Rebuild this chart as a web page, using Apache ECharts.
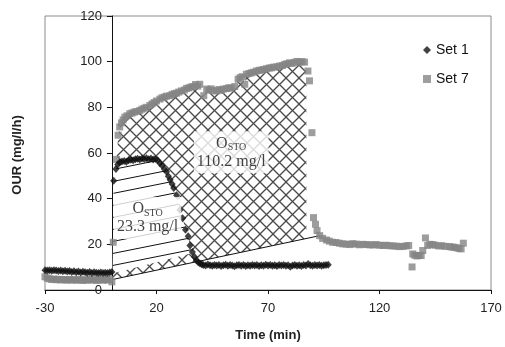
<!DOCTYPE html>
<html><head><meta charset="utf-8">
<script src="https://cdn.jsdelivr.net/npm/echarts@6/dist/echarts.min.js"></script>
<style>html,body{margin:0;padding:0;background:#fff}#c{width:505px;height:347px}</style>
</head><body><div id="c"></div>
<script>
// ---- data ----
const xMin = -30, xMax = 170, xStep = 50;
const yMin = 0, yMax = 120, yStep = 20;
const seriesNames = ['Set 1', 'Set 7'];

const set1 = [
 [-30,8.6],[-29,8.5],[-28,8.7],[-27,8.4],[-26,8.6],[-25,8.5],[-24,8.3],[-23,8.5],[-22,8.2],[-21,8.4],
 [-20,8.1],[-19,8.3],[-18,7.9],[-17,8.2],[-16,7.8],[-15,8.1],[-14,7.7],[-13,8.0],[-12,7.8],[-11,7.6],
 [-10,7.9],[-9,7.5],[-8,7.8],[-7,7.6],[-6,7.4],[-5,7.7],[-4,7.5],[-3,7.6],[-2,7.4],[-1,7.7],[0,7.9],
 [0.8,47.8],[1.8,53.0],[2.6,55.0],[3.5,55.8],[4.5,56.3],[5.5,56.5],[6.5,56.2],[7.5,56.8],[8.5,57.0],
 [9.5,56.8],[10.5,57.3],[11.5,57.5],[12.5,57.2],[13.5,57.6],[14.5,57.4],[15.5,57.7],[16.5,57.3],
 [17.5,57.6],[18.5,57.2],[19.5,57.4],[20.5,56.8],[21.5,55.5],[22.5,54.5],[23.5,53.0],[24.5,51.8],
 [25.3,49.8],[26.1,48.3],[27.0,46.4],[27.7,44.7],[29.0,41.5],[30.5,35.0],[31.7,31.4],[33.0,26.4],
 [34.2,23.5],[35.0,19.5],[36.1,16.6],[37.0,14.6],[37.9,13.0],[38.7,12.1],[39.5,11.6],[40.3,11.3],
 [41,11.0],[42,10.7],[43,11.2],[44,10.8],[45,10.6],[46,11.0],[47,10.7],[48,10.9],[49,10.5],[50,10.8],
 [51,11.1],[52,10.6],[53,10.9],[54,10.7],[55,10.4],[56,10.8],[57,11.0],[58,10.6],[59,10.9],[60,10.5],
 [61,10.8],[62,10.6],[63,11.0],[64,10.7],[65,10.9],[66,10.5],[67,10.8],[68,10.6],[69,11.1],[70,10.7],
 [71,10.9],[72,10.6],[73,10.8],[74,10.5],[75,10.9],[76,10.7],[77,11.0],[78,10.6],[79,10.8],[80,10.2],
 [81,10.7],[82,10.9],[83,10.6],[84,10.8],[85,10.5],[86,11.0],[87,10.7],[88,11.4],[89,10.8],[90,10.6],
 [91,10.9],[92,10.7],[93,11.0],[94,10.6],[95,10.8],[96,10.9],[97,11.1]
];

const set7 = [
 [-30,5.8],[-29,5.2],[-28,4.9],[-27,4.6],[-26,4.8],[-25,4.5],[-24,4.7],[-23,4.4],[-22,4.6],[-21,4.5],
 [-20,4.3],[-19,4.6],[-18,4.4],[-17,4.5],[-16,4.3],[-15,4.6],[-14,4.4],[-13,4.2],[-12,4.5],[-11,4.3],
 [-10,4.6],[-9,4.4],[-8,4.5],[-7,4.2],[-6,4.4],[-5,4.6],[-4,4.3],[-3,4.5],[-2,4.4],[-1,4.6],[0,3.6],
 [0.6,20.9],[2.1,57.2],[2.8,67.8],[3.5,71.4],[4.3,73.2],[5.0,74.5],[5.8,75.7],[6.8,76.3],[8.0,77.2],
 [9.0,77.5],[10.0,77.9],[11.0,78.2],[12.5,78.6],[13.5,79.2],[14.5,79.6],[15.5,80.0],[17.0,80.8],
 [18.0,81.5],[19.0,82.1],[20.0,82.8],[21.5,83.6],[22.5,84.2],[23.5,84.5],[24.5,84.9],[26.0,85.1],
 [27.0,85.6],[28.0,86.0],[29.0,86.2],[30.0,86.7],[31.2,87.2],[32.5,87.6],[33.5,88.3],[34.5,88.5],
 [35.5,88.9],[36.4,89.1],[37.5,90.0],[38.5,89.3],[39.4,90.1],[41.2,85.1],[42.5,88.0],[43.5,87.5],
 [44.5,88.1],[45.5,87.3],[46.9,87.2],[48.0,87.8],[49.0,87.4],[50.0,88.0],[51.4,88.2],[52.5,88.6],
 [53.5,88.4],[55.1,89.1],[56.6,92.3],[57.5,93.0],[58.5,93.4],[59.6,90.1],[60.3,94.5],[61.5,94.8],
 [62.5,95.1],[63.5,95.4],[64.8,95.9],[66.0,96.2],[67.0,96.3],[68.0,96.6],[69.3,96.9],[70.5,97.2],
 [71.5,97.3],[72.5,97.6],[74.0,97.8],[75.2,98.1],[76.5,98.3],[77.5,98.8],[78.5,99.1],[79.7,99.5],
 [80.8,99.2],[81.8,99.7],[83.0,100.1],[84.2,99.8],[85.3,100.0],[86.4,99.8],[87.9,95.9],[88.6,91.6],
 [89.7,68.9],[90.4,31.7],[91.3,28.8],[92.0,26.0],[93.2,23.8],[94.5,22.6],[96.2,21.9],[97.5,21.4],
 [99.0,20.9],[100.5,20.8],[102,20.5],[103.5,20.2],[105,20.1],[106.6,19.9],[108,20.3],[109.5,20.1],
 [111,19.8],[112.5,20.0],[114.1,19.9],[115.5,19.8],[117,19.7],[118.5,19.9],[120,19.6],[121.5,19.5],
 [123,19.6],[124.5,19.4],[126,19.3],[127.5,19.2],[129,19.0],[130.5,19.1],[132,19.3],[133.1,19.5],
 [134.6,10.1],[134.9,15.8],[135.8,15.2],[136.8,14.9],[137.8,15.1],[138.7,15.1],[139.4,17.3],
 [140.6,22.8],[141.6,19.5],[142.6,20.0],[143.9,19.9],[145,19.6],[146.5,19.3],[148,19.4],[149.5,19.1],
 [151.4,19.0],[152.5,18.8],[153.5,18.7],[154.5,18.5],[155.6,18.2],[156.6,18.0],[157.6,20.5]
];

// baseline of the Set 7 storage area and corner values of the hatched areas
const baseline7 = [[0.3,4.6],[93.2,23.8]];
const hatch7Right = [[87.2,97.5],[87.2,22.6]];
const hatch1Bottom = [[36.1,16.2],[0.3,7.2]];

// area annotations
const annoNames = ['110.2 mg/l', '23.3 mg/l'];
const annoPos = [[53.5,60.3],[16.0,31.5]];

// ---- layout ----
const gridLeft = 45, gridRight = 14;
const plotW = 505 - gridLeft - gridRight;
const yAxisShift = -plotW * (0 - xMin) / (xMax - xMin); // y axis sits at time 0

// ---- patterns ----
function crossPattern(){
  const s = 13, c = document.createElement('canvas'); c.width = s; c.height = s;
  const g = c.getContext('2d'); g.strokeStyle = '#4a4a4a'; g.lineWidth = 1.3;
  for (const o of [-s, 0, s]) {
    g.beginPath(); g.moveTo(o, 0); g.lineTo(o + s, s); g.stroke();
    g.beginPath(); g.moveTo(o, s); g.lineTo(o + s, 0); g.stroke();
  }
  return c;
}
function slantPattern(){
  const W = 60, H = 12, c = document.createElement('canvas'); c.width = W; c.height = H;
  const g = c.getContext('2d'); g.strokeStyle = '#111'; g.lineWidth = 1;
  for (const o of [-H, 0, H]) { g.beginPath(); g.moveTo(0, H + o); g.lineTo(W, o); g.stroke(); }
  return c;
}
const crossFill = {image: crossPattern(), repeat: 'repeat'};
const slantFill = {image: slantPattern(), repeat: 'repeat'};

const hatch7 = [baseline7[0]].concat(set7.filter(p => p[0] >= 0.5 && p[0] <= 86.5), hatch7Right);
const hatch1 = set1.filter(p => p[0] >= 0.5 && p[0] <= 36.2).concat(hatch1Bottom);

function polySeries(points, fills, z){
  return {
    type: 'custom', coordinateSystem: 'cartesian2d', data: [[0, 0]], silent: true, z: z, clip: true,
    renderItem: (params, api) => ({
      type: 'group',
      children: fills.map(f => ({type: 'polygon', shape: {points: points.map(p => api.coord(p))}, style: {fill: f, stroke: null}}))
    })
  };
}

const chart = echarts.init(document.getElementById('c'), null, {renderer: 'canvas'});
const serif = 'Liberation Serif, Times New Roman, serif';
const sans = 'Liberation Sans, Arial, sans-serif';
chart.setOption({
  animation: false,
  backgroundColor: '#fff',
  grid: {left: gridLeft, right: gridRight, top: 16, bottom: 54, show: true, borderColor: '#8a8a8a', borderWidth: 1},
  legend: {
    orient: 'vertical', left: 418, top: 38, itemWidth: 8, itemHeight: 8, itemGap: 15,
    textStyle: {fontSize: 14, fontFamily: sans, color: '#111'},
    data: [{name: seriesNames[0], icon: 'diamond'}, {name: seriesNames[1], icon: 'rect'}]
  },
  xAxis: {
    type: 'value', min: xMin, max: xMax, interval: xStep,
    axisLine: {onZero: false, lineStyle: {color: '#111', width: 1}},
    axisTick: {length: 4, lineStyle: {color: '#111'}},
    axisLabel: {fontSize: 13, fontFamily: sans, color: '#222', margin: 12},
    splitLine: {show: false},
    name: 'Time (min)', nameLocation: 'middle', nameGap: 39,
    nameTextStyle: {fontSize: 13, fontWeight: 'bold', fontFamily: sans, color: '#222'}
  },
  yAxis: {
    type: 'value', min: yMin, max: yMax, interval: yStep, offset: yAxisShift,
    axisLine: {onZero: false, lineStyle: {color: '#111', width: 1}},
    axisTick: {length: 5, lineStyle: {color: '#111'}},
    axisLabel: {fontSize: 13, fontFamily: sans, color: '#222', margin: 10},
    splitLine: {show: false}
  },
  graphic: [{
    type: 'text', x: 17, y: 155, rotation: Math.PI / 2,
    style: {text: 'OUR (mg/l/h)', font: 'bold 13px ' + sans, fill: '#222', align: 'center', verticalAlign: 'middle'}
  }],
  series: [
    polySeries(hatch7, [crossFill], 1),
    polySeries(hatch1, ['#fff', slantFill], 2),
    {type: 'line', data: baseline7, symbol: 'none', silent: true, z: 3, lineStyle: {color: '#111', width: 1}},
    {name: seriesNames[1], type: 'scatter', data: set7, symbol: 'rect', symbolSize: 7, z: 4,
     itemStyle: {color: '#848484'}},
    {name: seriesNames[0], type: 'scatter', data: set1, symbol: 'diamond', symbolSize: [7, 8], z: 5,
     itemStyle: {color: '#111'}},
    {type: 'scatter', silent: true, z: 6, symbolSize: 0,
     data: annoPos.map((p, i) => ({value: p, name: annoNames[i]})),
     label: {
       show: true, position: 'inside', align: 'center', verticalAlign: 'middle',
       backgroundColor: '#fff', padding: [3, 3],
       formatter: p => '{o|O}{s|STO}\n{v|' + p.name + '}',
       rich: {
         o: {fontFamily: serif, fontSize: 16, color: '#111', lineHeight: 18},
         s: {fontFamily: serif, fontSize: 10, color: '#111', lineHeight: 14, verticalAlign: 'bottom'},
         v: {fontFamily: serif, fontSize: 16, color: '#111', lineHeight: 18}
       }
     }}
  ]
});
</script>
</body></html>
